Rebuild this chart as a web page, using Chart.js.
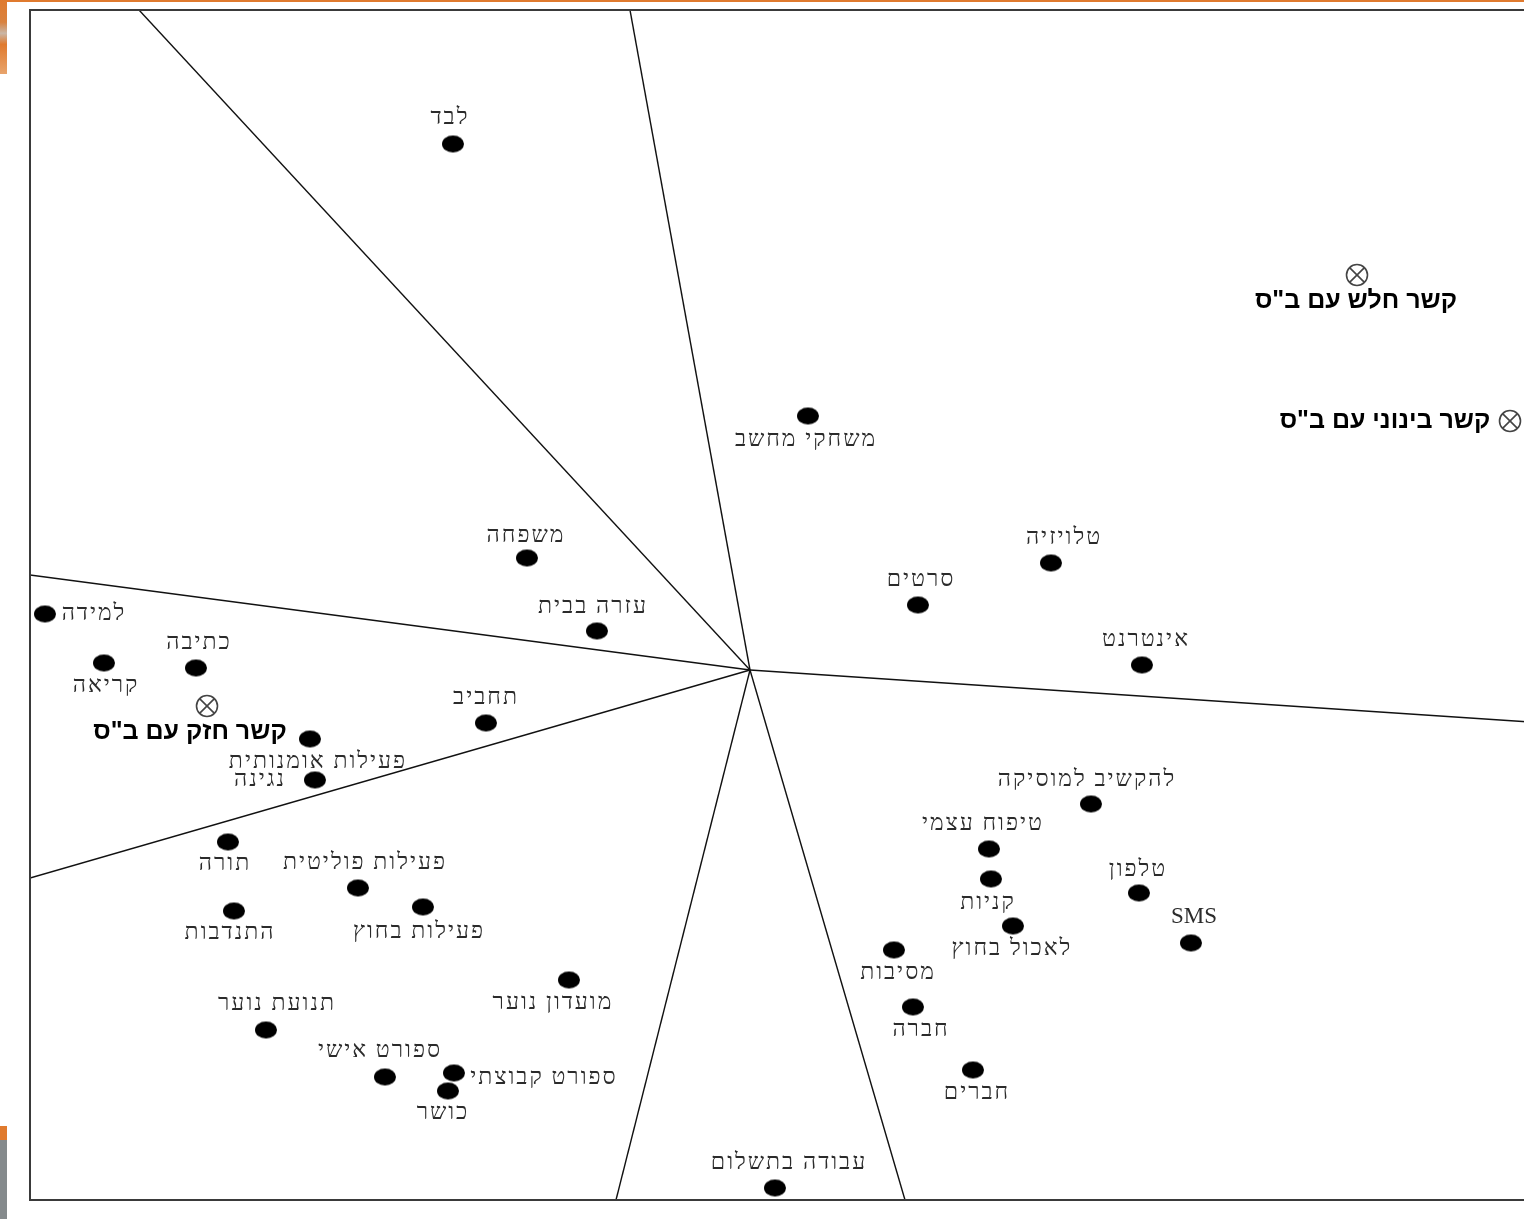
<!DOCTYPE html>
<html>
<head>
<meta charset="utf-8">
<script src="https://cdn.jsdelivr.net/npm/chart.js@4.4.1/dist/chart.umd.min.js"></script>
<style>
body{margin:0;background:#fff;overflow:hidden;width:1524px;height:1219px;position:relative;}
#c{position:absolute;left:0;top:0;}
.deco{position:absolute;}
</style>
</head>
<body>
<div class="deco" style="left:0;top:0;width:1524px;height:2px;background:#e07a2e"></div>
<div class="deco" style="left:0;top:0;width:7px;height:74px;background:linear-gradient(#e07a2e,#d9823f 30%,#c9b6a6 45%,#e07a2e 60%,#e8a46c)"></div>
<div class="deco" style="left:0;top:1126px;width:7px;height:14px;background:#e07a2e"></div>
<div class="deco" style="left:0;top:1140px;width:7px;height:79px;background:#858a8c"></div>
<canvas id="c" width="1540" height="1219"></canvas>
<script>
// activities (SSA map, units, origin at the centre of the rays)
let names=["לבד","משחקי מחשב","משפחה","עזרה בבית","תחביב","למידה","כתיבה","קריאה",
"פעילות אומנותית","נגינה","תורה","פעילות פוליטית","התנדבות","פעילות בחוץ","מועדון נוער",
"תנועת נוער","ספורט אישי","ספורט קבוצתי","כושר","עבודה בתשלום","סרטים","טלויזיה","אינטרנט",
"להקשיב למוסיקה","טיפוח עצמי","קניות","טלפון","SMS","לאכול בחוץ","מסיבות","חברה","חברים"];
let xs=[-297,58,-223,-153,-264,-705,-554,-646,-440,-435,-522,-392,-516,-327,-181,
-484,-365,-296,-302,25,168,301,392,341,239,241,389,441,263,144,163,223];
let ys=[526,254,112,39,-53,56,2,7,-69,-110,-172,-218,-241,-237,-310,
-360,-407,-403,-421,-518,65,107,5,-134,-179,-209,-223,-273,-256,-280,-337,-400];

// school-connection reference points
let schoolNames=['קשר חזק עם ב"ס','קשר חלש עם ב"ס','קשר בינוני עם ב"ס'];
let schoolX=[-543,607,760];
let schoolY=[-36,395,249];

// region boundary rays (from the origin)
let rayX=[-611,-120,-720,-720,-134,155,780];
let rayY=[660,660,95,-208,-530,-530,-52];

// label offsets in pixels (dx,dy from the mark)
let labelDx=[-3,-2,-1,-4,0,49,3,2,8,-55,-3,7,-4,-4,-16,11,-5,90,-5,14,3,13,4,-4,-6,-3,-1,3,-1,4,8,4];
let labelDy=[-26,24,-22,-24,-25,0,-25,23,23,0,22,-25,22,25,23,-26,-26,5,22,-25,-25,-25,-25,-24,-25,24,-23,-26,23,23,23,23];
let schoolDx=[-17,-1,-125];
let schoolDy=[26,26,0];

function dotImg(){
let c=document.createElement("canvas");
c.width=24;c.height=19;
let g=c.getContext("2d");
g.fillStyle="#000";
g.beginPath();
g.ellipse(12,9.5,11,8.5,0,0,Math.PI*2);
g.fill();
return c;
}

function crossImg(){
let c=document.createElement("canvas");
c.width=26;c.height=26;
let g=c.getContext("2d");
g.strokeStyle="#444";
g.lineWidth=1.6;
g.beginPath();
g.arc(13,13,10.5,0,Math.PI*2);
g.stroke();
let d=10.5*Math.SQRT1_2;
g.beginPath();
g.moveTo(13-d,13-d);g.lineTo(13+d,13+d);
g.moveTo(13+d,13-d);g.lineTo(13-d,13+d);
g.stroke();
return c;
}

let rays=rayX.map((x,i)=>({
type:'line',
data:[{x:0,y:0},{x:x,y:rayY[i]}],
borderColor:'#111',
borderWidth:1.4,
pointRadius:0,
fill:false
}));

let framePlugin={
id:'frame',
afterDraw(chart){
let a=chart.chartArea,ctx=chart.ctx;
ctx.save();
ctx.strokeStyle='#3a3a3a';
ctx.lineWidth=2;
ctx.strokeRect(a.left,a.top,a.right-a.left,a.bottom-a.top);
ctx.restore();
}
};

let labelPlugin={
id:'labels',
afterDatasetsDraw(chart){
let ctx=chart.ctx;
ctx.save();
ctx.textAlign='center';
ctx.textBaseline='middle';
let m0=chart.getDatasetMeta(0);
m0.data.forEach((p,i)=>{
let t=names[i];
let latin=/[A-Za-z]/.test(t);
ctx.direction=latin?'ltr':'rtl';
ctx.letterSpacing=latin?'0px':'2px';
ctx.font='23px "Liberation Serif"';
ctx.fillStyle='#2b2b2b';
ctx.fillText(t,p.x+labelDx[i],p.y+labelDy[i]);
});
let m1=chart.getDatasetMeta(1);
ctx.letterSpacing='0px';
ctx.font='bold 25px "Liberation Sans"';
ctx.direction='rtl';
ctx.fillStyle='#000';
m1.data.forEach((p,i)=>{
ctx.fillText(schoolNames[i],p.x+schoolDx[i],p.y+schoolDy[i]);
});
ctx.restore();
}
};

new Chart(document.getElementById("c"),{
type:'scatter',
data:{
datasets:[
{data:xs.map((x,i)=>({x:x,y:ys[i]})),pointStyle:dotImg(),pointRadius:11},
{data:schoolX.map((x,i)=>({x:x,y:schoolY[i]})),pointStyle:crossImg(),pointRadius:12}
].concat(rays)
},
options:{
responsive:false,
animation:false,
devicePixelRatio:1,
layout:{autoPadding:false,padding:{left:30,top:10,right:10,bottom:19}},
scales:{
x:{type:'linear',min:-720,max:780,display:false},
y:{type:'linear',min:-530,max:660,display:false}
},
plugins:{legend:{display:false},tooltip:{enabled:false}},
events:[]
},
plugins:[framePlugin,labelPlugin]
});
</script>
</body>
</html>
